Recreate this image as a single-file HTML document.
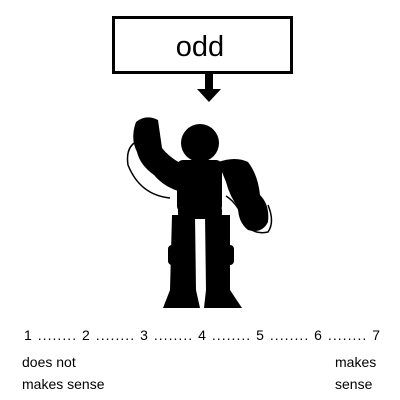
<!DOCTYPE html>
<html><head><style>
html,body{margin:0;padding:0;background:#fff;}
svg{display:block;}
text{font-family:"Liberation Sans",sans-serif;fill:#000;}
</style></head><body>
<svg width="400" height="400" viewBox="0 0 400 400" xmlns="http://www.w3.org/2000/svg">
<rect x="113.5" y="17.5" width="178" height="55" fill="#fff" stroke="#000" stroke-width="3"/>
<text x="200" y="56" font-size="29" text-anchor="middle">odd</text>
<rect x="205" y="73" width="8" height="17" fill="#000"/>
<polygon points="197,89 221,89 209,102" fill="#000"/>
<g fill="#000">
<circle cx="200" cy="143" r="19"/>
<rect x="177" y="160" width="45" height="52" rx="6"/>
<path d="M136,122 Q146,114 158,120 L162,148 Q168,156 180,163 L182,192 Q165,188 154,175 Q140,165 137,152 Q130,138 136,122 Z"/>
<path d="M218,162 Q236,156 248,162 Q258,175 260,195 Q270,205 268,222 Q262,234 248,230 Q238,222 238,207 Q230,197 226,182 Z"/>
<rect x="178" y="205" width="44" height="14" rx="5"/>
<path d="M172,215 L195,215 L196,290 L200,308 L163,308 L170,290 Z"/>
<path d="M205,215 L230,215 L230,290 L242,308 L204,308 L206,290 Z"/>
<rect x="168" y="245" width="12" height="20" rx="4"/>
<rect x="224" y="245" width="10" height="20" rx="4"/>
</g>
<path d="M140,140 Q125,145 128,165 Q140,195 170,198" fill="none" stroke="#000" stroke-width="1.5"/>
<path d="M226,196 Q240,205 245,225 Q255,235 268,232 Q275,222 268,205" fill="none" stroke="#000" stroke-width="1.5"/>
<text x="24" y="340" font-size="14" textLength="356" lengthAdjust="spacing">1 ........ 2 ........ 3 ........ 4 ........ 5 ........ 6 ........ 7</text>
<text x="22" y="367" font-size="14">does not</text>
<text x="22" y="389" font-size="14">makes sense</text>
<text x="335" y="367" font-size="14">makes</text>
<text x="335" y="389" font-size="14">sense</text>
</svg>
</body></html>
